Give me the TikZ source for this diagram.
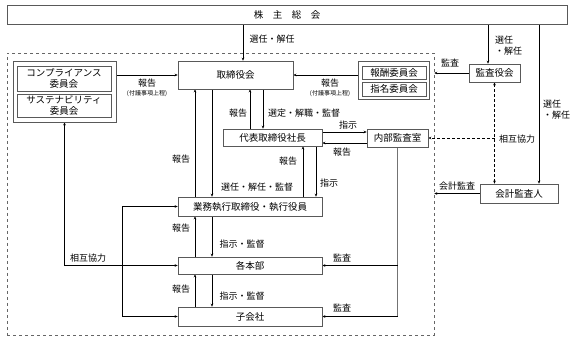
\documentclass[tikz,border=0pt]{standalone}
\usepackage{fontspec}
\setmainfont{Noto Sans CJK JP}
\usetikzlibrary{arrows.meta,backgrounds}
\pgfdeclarelayer{edgelayer}
\pgfdeclarelayer{nodelayer}
\pgfsetlayers{background,edgelayer,nodelayer,main}
\tikzstyle{none}=[inner sep=0mm]
\tikzstyle{box}=[draw=black!65,line width=0.6pt,inner sep=0pt,align=center,font=\fontsize{9.5}{11}\selectfont]
\tikzstyle{frame}=[draw=black!60,dashed,line width=0.5pt,inner sep=0pt]
\tikzstyle{lbl}=[none,font=\fontsize{9}{10.5}\selectfont]
\tikzstyle{note}=[none,font=\fontsize{6}{7}\selectfont]
\tikzstyle{diredge}=[line width=0.6pt,-{Stealth[length=3pt,width=2.6pt]}]
\tikzstyle{bothedge}=[line width=0.6pt,{Stealth[length=3pt,width=2.6pt]}-{Stealth[length=3pt,width=2.6pt]}]
\tikzstyle{coop}=[bothedge,dash pattern=on 3pt off 2pt]
\tikzstyle{coopone}=[diredge,dash pattern=on 3pt off 2pt]

\begin{document}
\begin{tikzpicture}[x=1pt,y=-1pt]
	\useasboundingbox (0,0) rectangle (584,339);
	\begin{pgfonlayer}{nodelayer}
		\node [style=frame, minimum width=427pt, minimum height=282pt] (corp) at (220.5,194) {};
		\node [style=box, minimum width=560pt, minimum height=19pt] (gm) at (287,14.5) {株\hspace{1em}主\hspace{1em}総\hspace{1em}会};
		\node [style=box, minimum width=115pt, minimum height=28pt] (bod) at (235.5,75) {取締役会};
		% committees
		\node [style=box, minimum width=103pt, minimum height=61pt] (compg) at (64.5,91.5) {};
		\node [style=box, minimum width=94pt, minimum height=25pt] (comp) at (64,78.5) {コンプライアンス\\委員会};
		\node [style=box, minimum width=94pt, minimum height=23pt] (sust) at (64,105.5) {サステナビリティ\\委員会};
		\node [style=box, minimum width=71pt, minimum height=38pt] (nomg) at (393.5,80) {};
		\node [style=box, minimum width=64pt, minimum height=13pt] (remu) at (394,72.5) {報酬委員会};
		\node [style=box, minimum width=64pt, minimum height=14pt] (nomi) at (394,89) {指名委員会};
		% auditors
		\node [style=box, minimum width=51pt, minimum height=18pt] (kan) at (494.5,73) {監査役会};
		\node [style=box, minimum width=78pt, minimum height=19pt] (audit) at (519,193.5) {会計監査人};
		\node [style=box, minimum width=61pt, minimum height=18pt] (naibu) at (397.5,138) {内部監査室};
		% executive line
		\node [style=box, minimum width=99pt, minimum height=17pt] (ceo) at (272.5,137.5) {代表取締役社長};
		\node [style=box, minimum width=144pt, minimum height=19pt] (exec) at (250,206.5) {業務執行取締役・執行役員};
		\node [style=box, minimum width=144pt, minimum height=17pt] (hq) at (250,265.5) {各本部};
		\node [style=box, minimum width=144pt, minimum height=19pt] (sub) at (250,316.5) {子会社};
		% labels
		\node [style=lbl] (l1) at (272,39) {選任・解任};
		\node [style=lbl, anchor=west, align=left] (l2) at (495,45.5) {選任\\・解任};
		\node [style=lbl, anchor=west, align=left] (l3) at (543,109.5) {選任\\・解任};
		\node [style=lbl] (l4) at (147,83) {報告};
		\node [style=note] (n4) at (147,94) {(付議事項上程)};
		\node [style=lbl] (l5) at (330,83) {報告};
		\node [style=note] (n5) at (330,94) {(付議事項上程)};
		\node [style=lbl] (l6) at (450,63) {監査};
		\node [style=lbl] (l7) at (457,186) {会計監査};
		\node [style=lbl] (l8) at (517,139) {相互協力};
		\node [style=lbl] (l9) at (238,113) {報告};
		\node [style=lbl] (l10) at (304,113) {選定・解職・監督};
		\node [style=lbl] (l11) at (348,125) {指示};
		\node [style=lbl] (l12) at (342,152) {報告};
		\node [style=lbl] (l13) at (181,159) {報告};
		\node [style=lbl] (l14) at (257,187) {選任・解任・監督};
		\node [style=lbl] (l15) at (288,161) {報告};
		\node [style=lbl] (l16) at (329,183) {指示};
		\node [style=lbl] (l17) at (181,228) {報告};
		\node [style=lbl] (l18) at (242,244) {指示・監督};
		\node [style=lbl] (l19) at (181,289) {報告};
		\node [style=lbl] (l20) at (242,296) {指示・監督};
		\node [style=lbl] (l21) at (342,258) {監査};
		\node [style=lbl] (l22) at (342,308) {監査};
		\node [style=lbl] (l23) at (88,258) {相互協力};
	\end{pgfonlayer}
	\begin{pgfonlayer}{edgelayer}
		\draw [style=diredge] ([xshift=7.5pt]bod.north |- gm.south) to ([xshift=7.5pt]bod.north);
		\draw [style=diredge] ([xshift=-6.5pt]kan.north |- gm.south) to ([xshift=-6.5pt]kan.north);
		\draw [style=diredge] ([xshift=20pt]audit.north |- gm.south) to ([xshift=20pt]audit.north);
		\draw [style=diredge] (bod.west -| compg.east) to (bod.west);
		\draw [style=diredge] (bod.east -| nomg.west) to (bod.east);
		\draw [style=diredge] (kan.west) to (kan.west -| corp.east);
		\draw [style=diredge] (audit.west) to (audit.west -| corp.east);
		\draw [style=coop] (kan.south) to (kan.south |- audit.north);
		\draw [style=coopone] (kan.south |- naibu.east) to (naibu.east);
		\draw [style=diredge] ([xshift=-22.5pt]ceo.north) to ([xshift=-22.5pt]ceo.north |- bod.south);
		\draw [style=diredge] ([xshift=-9.5pt]ceo.north |- bod.south) to ([xshift=-9.5pt]ceo.north);
		\draw [style=diredge] ([yshift=5.5pt]ceo.east) to ([yshift=5.5pt]ceo.east -| naibu.west);
		\draw [style=diredge] ([yshift=-5.5pt]ceo.east -| naibu.west) to ([yshift=-5.5pt]ceo.east);
		\draw [style=diredge] ([xshift=-55pt]exec.north) to ([xshift=-55pt]exec.north |- bod.south);
		\draw [style=diredge] ([xshift=-38pt]exec.north |- bod.south) to ([xshift=-38pt]exec.north);
		\draw [style=diredge] ([xshift=53pt]exec.north) to ([xshift=53pt]exec.north |- ceo.south);
		\draw [style=diredge] ([xshift=66pt]exec.north |- ceo.south) to ([xshift=66pt]exec.north);
		\draw [style=diredge] ([xshift=-55pt]hq.north) to ([xshift=-55pt]exec.south);
		\draw [style=diredge] ([xshift=-38pt]exec.south) to ([xshift=-38pt]hq.north);
		\draw [style=diredge] ([xshift=-55pt]sub.north) to ([xshift=-55pt]hq.south);
		\draw [style=diredge] ([xshift=-38pt]hq.south) to ([xshift=-38pt]sub.north);
		\draw [black!55, line width=0.6pt] (naibu.south) to (naibu.south |- sub.east);
		\draw [style=diredge] (naibu.south |- hq.east) to (hq.east);
		\draw [style=diredge] (naibu.south |- sub.east) to (sub.east);
		\draw [style=bothedge] (hq.west) -| (compg.south);
		\draw [style=bothedge] (exec.west) -- ++(-55,0) |- (sub.west);
	\end{pgfonlayer}
\end{tikzpicture}
\end{document}
